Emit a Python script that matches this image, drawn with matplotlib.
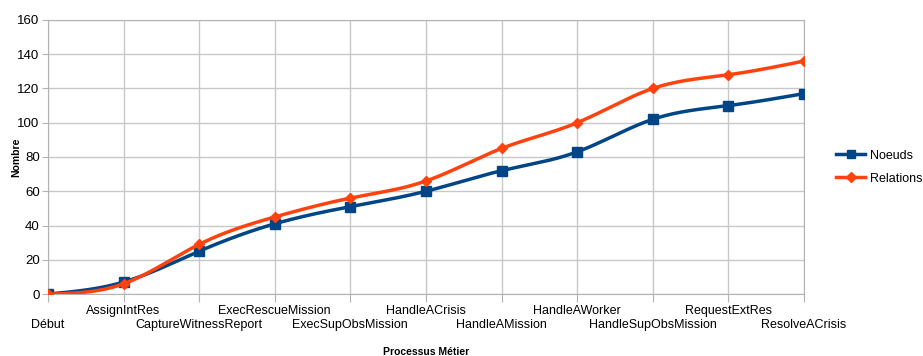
import matplotlib
matplotlib.use("Agg")
import matplotlib.pyplot as plt
import numpy as np

plt.rcParams['font.family'] = ['Liberation Sans', 'DejaVu Sans']

categories = ["Début", "AssignIntRes", "CaptureWitnessReport", "ExecRescueMission",
              "ExecSupObsMission", "HandleACrisis", "HandleAMission", "HandleAWorker",
              "HandleSupObsMission", "RequestExtRes", "ResolveACrisis"]
noeuds = [0, 7, 25, 41, 51, 60, 72, 83, 102, 110, 117]
relations = [0, 6, 29, 45, 56, 66, 85, 100, 120, 128, 136]


def spline(x, y, n=30):
    # natural cubic spline, only used to draw the smoothed line
    x = np.asarray(x, float)
    y = np.asarray(y, float)
    k = len(x)
    h = np.diff(x)
    A = np.zeros((k, k))
    b = np.zeros(k)
    A[0, 0] = A[-1, -1] = 1
    for i in range(1, k - 1):
        A[i, i - 1] = h[i - 1]
        A[i, i] = 2 * (h[i - 1] + h[i])
        A[i, i + 1] = h[i]
        b[i] = 3 * ((y[i + 1] - y[i]) / h[i] - (y[i] - y[i - 1]) / h[i - 1])
    c = np.linalg.solve(A, b)
    xs, ys = [], []
    for i in range(k - 1):
        bb = (y[i + 1] - y[i]) / h[i] - h[i] * (2 * c[i] + c[i + 1]) / 3
        d = (c[i + 1] - c[i]) / (3 * h[i])
        t = np.linspace(0, h[i], n, endpoint=False)
        xs.extend(x[i] + t)
        ys.extend(y[i] + bb * t + c[i] * t ** 2 + d * t ** 3)
    xs.append(x[-1])
    ys.append(y[-1])
    return np.array(xs), np.array(ys)


fig = plt.figure(figsize=(9.23, 3.56), dpi=100)
ax = fig.add_axes([0.052, 0.174, 0.819, 0.770])

x = np.arange(len(categories))
blue = "#004586"
orange = "#ff420e"

sx, sy = spline(x, noeuds)
ax.plot(sx, sy, color=blue, lw=2.5, zorder=3)
ax.plot(x, noeuds, 's', color=blue, ms=7, zorder=4)
sx, sy = spline(x, relations)
ax.plot(sx, sy, color=orange, lw=2.5, zorder=5)
ax.plot(x, relations, 'D', color=orange, ms=5.5, zorder=6)

# legend proxies
ax.plot([], [], color=blue, lw=2.5, marker='s', ms=6, label="Noeuds")
ax.plot([], [], color=orange, lw=2.5, marker='D', ms=5, label="Relations")
ax.legend(loc='center left', bbox_to_anchor=(1.0, 0.463), frameon=False,
          fontsize=9, handlelength=2.3, borderaxespad=2.2, labelspacing=0.9,
          handletextpad=0.4)

ax.set_xlim(0, len(categories) - 1)
ax.set_ylim(0, 160)
ax.set_yticks(range(0, 161, 20))
ax.set_xticks(x)
labels = [("\n" + c) if i % 2 == 0 else c for i, c in enumerate(categories)]
ax.set_xticklabels(labels, fontsize=9, linespacing=1.2)
ax.tick_params(axis='y', labelsize=9.5, length=4, color="#b3b3b3", pad=2)
ax.tick_params(axis='x', length=6, color="#b3b3b3", pad=2)

ax.grid(True, color="#c8c8c8", lw=1)
ax.set_axisbelow(True)
for s in ax.spines.values():
    s.set_color("#b3b3b3")

ax.set_ylabel("Nombre", fontsize=7.5, fontweight='bold')
ax.yaxis.set_label_coords(-0.036, 0.5)
ax.set_xlabel("Processus Métier", fontsize=7.5, fontweight='bold')
ax.xaxis.set_label_coords(0.5, -0.193)

fig.savefig("out.png", dpi=100)
